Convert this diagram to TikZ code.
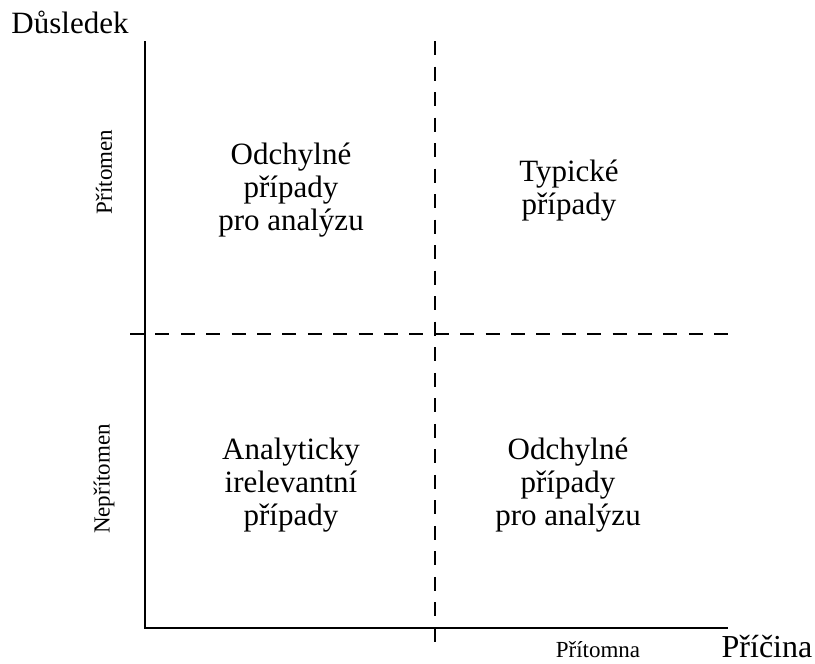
\documentclass[tikz,border=0pt]{standalone}
\usepackage{fontspec}
\setmainfont{Liberation Serif}
\begin{document}
\begin{tikzpicture}[x=1pt,y=-1pt,
  axis/.style={line width=2.5pt},
  dline/.style={line width=2.5pt, dash pattern=on 14pt off 11.4pt},
  quad/.style={align=center, font=\fontsize{31}{33}\selectfont, inner sep=0pt},
  big/.style={font=\fontsize{31}{34}\selectfont, inner sep=0pt},
  small/.style={font=\fontsize{23}{26}\selectfont, inner sep=0pt}]
\useasboundingbox (0,0) rectangle (815,664);
% axes
\coordinate (top) at (145,41);
\coordinate (origin) at (145,628);
\coordinate (right) at (728,628);
\draw[axis] (top) -- (origin) -- (right);
% dashed dividers
\coordinate (vt) at (435,41);
\coordinate (vb) at (435,642);
\coordinate (hl) at (130,334);
\coordinate (hr) at (728,334);
\draw[dline, dash pattern=on 14pt off 11.52pt] (vt) -- (vb);
\draw[dline] (hl) -- (hr);
% quadrant texts
\node[quad] (q1) at (291,190) {Odchylné\\případy\\pro analýzu};
\node[quad] (q2) at (569,191) {Typické\\případy};
\node[quad] (q3) at (291,485) {Analyticky\\irelevantní\\případy};
\node[quad] (q4) at (568,485) {Odchylné\\případy\\pro analýzu};
% axis labels
\node[big, anchor=base] (ylab) at (70,33) {Důsledek};
\node[big, anchor=base, font=\fontsize{32}{34}\selectfont] (xlab) at (767,657) {Příčina};
\node[small, anchor=base] (xpres) at (598,657) {Přítomna};
\node[small, rotate=90] (ypres) at (104,172) {Přítomen};
\node[small, rotate=90] (yabs) at (104,479) {Nepřítomen};
\end{tikzpicture}
\end{document}
